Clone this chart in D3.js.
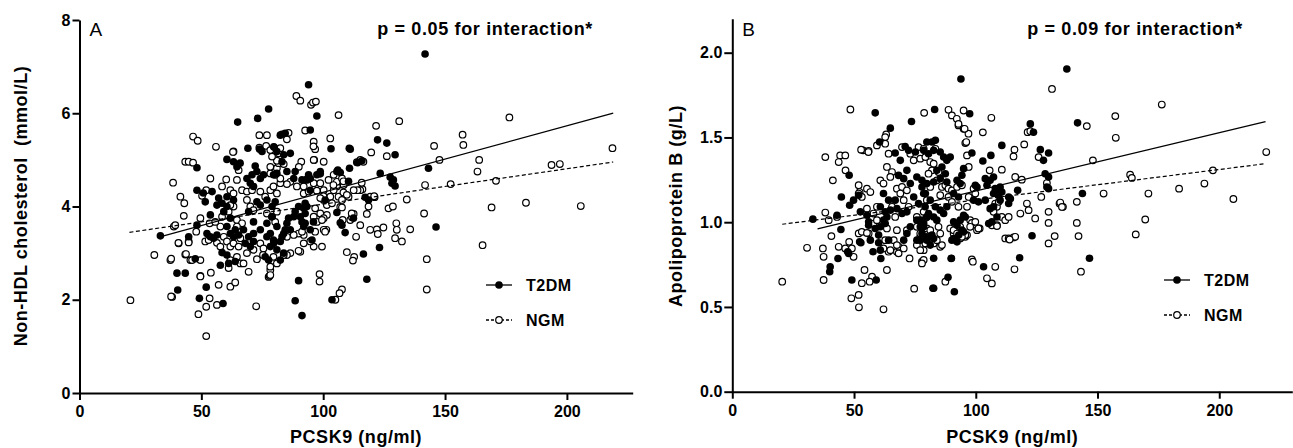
<!DOCTYPE html>
<html>
<head>
<meta charset="utf-8">
<script src="https://cdn.jsdelivr.net/npm/d3@7/dist/d3.min.js"></script>
<style>
  body { margin: 0; background: #fff; }
  svg text { font-family: "Liberation Sans", Arial, sans-serif; }
</style>
</head>
<body>
<div id="chart"></div>
<script>
var svgWidth = 1293;
var svgHeight = 448;

// ---- data: [PCSK9 ng/ml, value] ----
var xTicks = [0, 50, 100, 150, 200];
var yTicksA = [0, 2, 4, 6, 8];
var yTicksB = [0, 0.5, 1.0, 1.5, 2.0];
var seriesNames = ["T2DM", "NGM"];
var pLabels = ["p = 0.05 for interaction*", "p = 0.09 for interaction*"];

// regression lines: [intercept, slope, xStart, xEnd]
var fitA_T2DM = [2.88, 0.01425, 33, 219];
var fitA_NGM = [3.29, 0.0076, 20.5, 219];
var fitB_T2DM = [0.84, 0.00344, 35, 219];
var fitB_NGM = [0.951, 0.0018, 20.5, 219];

// panel A: non-HDL cholesterol (mmol/L)
var nonHdlT2DM = [
  [77.6,6.09],[73.1,5.89],[64.9,5.81],[48.2,4.83],[82.4,5.53],[69.1,5.25],[73.9,5.23],[74.9,5.18],[79.9,5.27],[60.5,5.01],
  [63.2,4.96],[65.9,4.93],[64.6,4.85],[72.1,4.87],[72.8,4.75],[70.8,4.68],[75.5,4.68],[74.2,4.6],[68.7,4.6],[70.1,4.5],
  [71.4,4.43],[79.6,4.68],[81,4.71],[57.1,4.18],[60.5,4.21],[63.2,4.14],[56.4,4.03],[58.5,4.07],[60.5,4.0],[51.6,4.1],
  [53.7,3.82],[48.2,3.6],[44.8,3.35],[33.2,3.37],[72.8,4.1],[74.2,4.03],[76.9,4.14],[79,4.0],[80.3,4.1],[69.4,3.89],
  [71.4,3.67],[76.9,3.64],[81,3.57],[59.2,3.89],[61.9,3.75],[52.3,3.42],[53.7,3.35],[56.4,3.39],[55,3.32],[60.5,3.57],
  [61.9,3.42],[63.9,3.5],[63.2,3.35],[65.3,3.39],[67.3,3.5],[69.4,3.35],[71.4,3.42],[68,3.21],[70.1,3.14],[71.4,3.25],
  [74.2,3.5],[76.9,3.35],[79.6,3.28],[78.3,3.14],[81,3.07],[58.5,3.01],[60.5,2.96],[57.8,2.74],[61.2,2.78],[63.9,2.82],
  [76.2,2.92],[77.6,2.85],[40,2.57],[43.4,2.57],[40.3,2.21],[52,2.27],[49.2,2.03],[58.9,1.92],[48.2,4.35],[54.4,4.32],
  [47.5,2.88],[50.8,4.29],[97.4,5.94],[94.7,5.64],[83.1,5.55],[84.4,5.57],[86.5,5.14],[83.8,5.11],[81,5.18],[79.7,5.28],
  [83.1,4.96],[103.2,5.24],[110.7,5.25],[111.1,5.23],[122.3,5.43],[126.1,5.36],[129.5,5.11],[110.8,4.82],[114.1,4.94],[115.9,4.98],
  [106,4.78],[107,4.73],[105.6,4.75],[123.4,4.71],[127.5,4.63],[128.8,4.57],[129.5,4.44],[128.2,4.5],[143.2,4.82],[98.8,4.75],
  [97.4,4.68],[94,4.68],[91.3,4.57],[88.5,4.75],[85.1,4.75],[87.9,4.6],[93.3,4.57],[94.7,4.6],[117.2,4.2],[105.6,3.87],
  [107,3.65],[109,3.44],[107.7,3.6],[123.1,3.12],[116.5,2.98],[117.9,2.44],[89.9,2.41],[88.5,1.98],[91.3,1.66],[103.6,2.0],
  [92.6,4.07],[93.3,4.0],[89.9,4.0],[88.5,3.89],[87.9,3.78],[85.8,3.75],[85.1,3.64],[84.4,3.5],[83.8,3.42],[83.1,3.35],
  [82.4,3.25],[83.8,3.0],[82.4,2.85],[92,3.96],[92.6,3.85],[90.6,3.78],[91.3,3.67],[92.6,3.64],[92,3.57],[95.4,3.28],
  [94.7,4.35],[86.5,3.5],[79.7,3.21],[79,3.78],[78.3,3.42],[96,3.67],[94.7,3.5],[94,6.61],[141.8,7.27],[146.3,3.56],
  [112.4,3.75],[118.6,4.14],[100.8,4.14],[98.8,4.7],[110.4,4.54]
];
var nonHdlNGM = [
  [46.6,5.5],[48.5,5.41],[56,5.28],[63.2,5.18],[73.8,5.53],[76.9,5.53],[43.4,4.96],[44.8,4.96],[46.6,4.94],[38.4,4.51],
  [53.7,4.6],[58.5,4.43],[60.2,4.58],[65.3,4.78],[64.6,4.57],[61.9,4.35],[63.2,4.28],[41.4,4.21],[43,4.07],[42.8,3.8],
  [52,4.35],[50.3,4.23],[49.6,3.75],[47.9,3.46],[38.7,3.57],[39.3,3.6],[51.6,3.25],[53,3.28],[40.7,3.21],[44.8,3.25],
  [30.7,2.96],[37.3,2.85],[43.4,2.97],[45.5,2.85],[46.2,2.85],[49.6,2.85],[49.6,2.51],[53.9,2.58],[57.1,2.32],[61.9,2.28],
  [63.9,2.37],[38,2.06],[53.4,2.03],[52,1.85],[48.8,1.69],[56.4,1.89],[52,1.22],[72.5,1.86],[20.9,1.99],[66.7,4.35],
  [68.7,4.32],[70.8,4.35],[70.1,4.0],[71.4,3.92],[68.7,4.14],[64.6,3.71],[66.7,3.64],[64.6,3.57],[74.2,4.32],[76.2,4.21],
  [78.3,4.35],[79.6,4.43],[81,4.28],[76.9,3.85],[79,3.78],[80.3,3.67],[81,3.89],[74.2,3.21],[75.5,3.1],[71.4,3.07],
  [68.7,3.0],[72.8,2.87],[64.6,2.92],[61.9,2.85],[66,2.78],[77.6,2.49],[69.4,2.6],[67.3,2.78],[57.8,3.57],[58.5,3.78],
  [61.2,3.89],[53.4,3.64],[55.7,3.67],[63.2,4.0],[61.9,4.03],[56.4,3.22],[57.8,3.14],[59.2,3.35],[60.5,3.25],[61.9,3.14],
  [63.2,3.21],[65.3,3.14],[66,3.32],[79.6,2.92],[81,2.78],[78.3,2.64],[40.6,3.22],[44.8,3.23],[43.7,2.98],[37.6,2.88],
  [37.6,2.07],[49.6,2.5],[61.2,2.68],[78,2.51],[75.3,2.96],[91,4.96],[90,4.85],[76.6,5.3],[73.8,5.26],[82.4,5.1],
  [63,5.17],[96.3,5.0],[89,6.37],[90.6,6.27],[95,6.18],[95.8,6.23],[97,6.25],[106.3,5.96],[121.7,5.73],[131.2,5.83],
  [85.8,5.58],[92.6,5.63],[85.1,5.44],[96.1,5.39],[96.7,5.23],[102.9,5.46],[119.7,5.16],[126.1,5.08],[115.2,5.0],[116.5,4.96],
  [141.8,4.46],[134.3,4.15],[141.4,3.85],[142.5,2.87],[142.5,2.22],[116.1,4.37],[115.2,4.35],[114.1,4.35],[121.1,4.2],[119.3,4.21],
  [118.6,4.0],[117.9,3.84],[126.8,3.96],[128.6,4.0],[130,3.64],[130.2,3.5],[129.5,3.32],[132.3,3.25],[135.7,3.51],[124.7,3.55],
  [122,3.51],[122.4,3.41],[119.3,3.5],[113.5,3.35],[115.2,3.6],[109.7,3.02],[112.7,2.92],[112.2,2.84],[98.5,2.55],[98.5,2.39],
  [107.7,2.22],[106.7,2.14],[111.1,3.71],[111.8,3.77],[112.5,3.84],[107,3.99],[107.7,3.98],[101.5,4.03],[101.5,3.82],[101.3,3.5],
  [99.5,3.14],[96.1,3.14],[94.7,3.25],[92,3.21],[90.6,3.03],[89.9,3.05],[86.5,3.0],[85.1,2.96],[83.8,2.96],[78.3,2.53],
  [78.3,2.71],[92,3.39],[89.9,3.42],[91.3,3.46],[87.9,3.39],[85.1,3.35],[92,4.28],[94,4.32],[97.4,4.34],[100.2,4.35],
  [96.1,4.5],[98.8,4.5],[93.3,4.58],[92,4.43],[89.2,4.43],[86.5,4.53],[85.1,4.48],[82.4,4.5],[82.4,4.6],[80.3,4.68],
  [78.3,4.71],[81,4.82],[78.3,4.85],[81.7,4.93],[83.8,4.91],[81,4.98],[79,5.07],[78.3,5.21],[81.7,5.14],[82.4,5.25],
  [96.7,3.96],[98.8,3.85],[96.1,3.78],[100.2,3.75],[97.4,3.67],[99.5,3.71],[100.2,3.5],[96.7,3.46],[100.8,3.46],[105.6,4.43],
  [104.3,4.35],[102.9,4.21],[106.3,4.21],[100.2,4.14],[103.6,4.07],[112.5,4.35],[110.4,4.21],[102.2,4.57],[100.2,4.96],[96.1,5.0],
  [105.6,4.53],[108.4,4.46],[104.3,4.68],[107.7,4.6],[157.2,5.54],[157.5,5.32],[145.5,5.3],[147.7,5.0],[164,5.0],[163.3,4.75],
  [170.9,4.55],[193.7,4.89],[197.1,4.91],[218.7,5.25],[183.2,4.08],[169.1,3.98],[205.7,4.01],[152.3,4.48],[176.4,5.91],[165.4,3.17],
  [108.3,4.54],[104.2,4.46],[115.8,4.51],[108.3,4.3],[109.7,4.25],[107.7,4.14],[120.9,4.22],[111.7,3.85],[100.1,4.22],[98.8,4.18],
  [108,3.71],[113.8,4.95],[96,5.29],[105,2.0]
];

// panel B: apolipoprotein B (g/L)
var apoBT2DM = [
  [58.7,1.645],[73.6,1.594],[64.9,1.555],[60.5,1.473],[66.9,1.408],[71,1.447],[72.4,1.424],[75.2,1.414],[69,1.365],[71.7,1.306],
  [79.9,1.473],[48,1.277],[44.8,1.149],[48.2,1.1],[33.1,1.018],[43,1.041],[52.6,1.061],[44.6,0.957],[52.3,0.884],[47.4,0.826],
  [43.4,0.786],[40.2,0.737],[40,0.708],[49.1,0.659],[59.1,0.659],[57.8,0.826],[61,0.786],[55.3,1.041],[56,0.982],[58.7,0.963],
  [60.8,1.091],[62.8,1.061],[64.9,1.071],[67.6,1.08],[69.7,1.051],[71.7,1.061],[73.1,0.973],[75.8,0.894],[77.9,0.933],[79.9,0.894],
  [62.1,1.169],[64.2,1.13],[66.9,1.13],[68.3,1.276],[70.4,1.257],[73.1,1.228],[75.8,1.267],[77.9,1.208],[79.3,1.169],[51.9,1.159],
  [49.8,1.13],[63.5,1.031],[62.1,1.012],[60.1,0.924],[56.7,0.894],[60.8,0.835],[64.2,0.894],[74.5,1.149],[76.5,1.11],[75.8,1.012],
  [77.2,0.973],[79.9,1.031],[47.8,0.816],[52.8,0.879],[60.1,0.879],[82.7,0.61],[82.7,0.787],[90,0.787],[88.6,0.675],[91.2,0.59],
  [56,1.002],[60.8,0.973],[62.8,0.992],[70.4,0.894],[71.7,0.933],[78.6,0.992],[82,0.924],[90.9,0.904],[93,0.924],[95,0.943],
  [93.9,1.845],[137.4,1.904],[141.8,1.586],[83.1,1.665],[97.5,1.64],[122.4,1.58],[123.7,1.531],[110.7,1.453],[106.2,1.394],[102.9,1.361],
  [98.4,1.408],[126.5,1.428],[129.9,1.408],[127.8,1.365],[128.5,1.286],[129.9,1.267],[129.2,1.208],[129.9,1.198],[117.2,1.188],[113.5,1.149],
  [114.2,1.139],[123.1,0.92],[118,0.79],[103.2,0.737],[89.9,0.786],[82.4,0.61],[82,1.473],[83.4,1.483],[78.6,1.424],[80.6,1.404],
  [82.7,1.424],[85.4,1.414],[86.8,1.384],[88.1,1.365],[89.5,1.384],[84,1.306],[86.1,1.326],[87.5,1.286],[85.4,1.257],[82.7,1.237],
  [88.1,1.237],[92.3,1.247],[93.6,1.228],[95,1.316],[94.3,1.277],[90.9,1.169],[92.9,1.149],[99.8,1.218],[100.5,1.208],[103.9,1.257],
  [105.9,1.247],[107.3,1.267],[104.6,1.218],[108,1.198],[109.4,1.188],[110.7,1.178],[110,1.208],[107.3,1.169],[109.4,1.159],[99.1,1.13],
  [101.1,1.12],[103.9,1.13],[105.9,1.08],[107.3,1.091],[110,1.13],[113.5,1.11],[95,1.041],[95.7,1.031],[93.6,1.012],[90.9,1.002],
  [92.3,0.982],[94.3,0.953],[105.3,0.992],[106.6,1.002],[108.7,1.031],[77.9,1.247],[79.9,1.228],[78.6,1.169],[81.3,1.13],[79.2,1.091],
  [80.6,1.051],[82.7,1.031],[84,1.012],[85.4,1.071],[86.8,1.051],[88.1,1.091],[83.4,1.091],[77.2,1.012],[78.6,0.973],[77.2,0.894],
  [79.9,0.914],[82.7,0.904],[81.3,0.865],[90.2,0.894],[92.3,0.884],[143.8,1.169],[146.7,0.787]
];
var apoBNGM = [
  [48.5,1.665],[78.8,1.645],[38.2,1.384],[44.3,1.394],[46.4,1.394],[43.7,1.355],[53.7,1.424],[56,1.42],[63.2,1.518],[62.8,1.463],
  [64.2,1.404],[46.5,1.306],[41.3,1.247],[51.9,1.218],[52.3,1.178],[55.3,1.08],[38.2,1.057],[43,1.031],[39.6,1.012],[40.7,0.918],
  [30.7,0.849],[37.2,0.845],[37.5,0.796],[43.7,0.855],[46.4,0.845],[48,0.884],[49.8,0.796],[20.5,0.649],[37.5,0.659],[54.3,0.718],
  [57.4,0.679],[53.2,0.64],[56.4,0.649],[63.5,0.718],[48.9,0.551],[51.9,0.571],[52,0.498],[62.1,0.486],[74.7,0.608],[77.9,0.767],
  [72.8,0.786],[51.9,0.934],[53.2,0.943],[56,0.934],[57.4,1.022],[58,0.992],[59.4,1.012],[66.3,0.894],[67.6,0.826],[68.3,0.855],
  [64.2,0.826],[62.8,0.894],[51.9,1.169],[53.2,1.149],[55.3,1.198],[56.7,1.178],[60.8,1.247],[62.1,1.228],[63.5,1.326],[65.6,1.296],
  [64.9,1.267],[67.6,1.198],[69.7,1.208],[69,1.169],[71.7,1.188],[73.1,1.404],[74.5,1.365],[76.5,1.443],[77.2,1.375],[70.4,1.13],
  [72.4,1.091],[65.6,1.091],[66.9,1.031],[59.4,1.091],[58,1.051],[79.9,1.13],[78.6,1.012],[75.8,1.031],[75.8,0.865],[78.6,0.835],
  [67.6,0.953],[63.5,0.963],[49.1,0.845],[55.3,0.937],[62.1,0.845],[64.9,0.835],[67.6,0.865],[68.3,0.816],[70.4,0.845],[71.7,0.953],
  [75.8,0.973],[77.2,0.914],[79.9,0.963],[82.7,0.875],[85.4,0.855],[89.5,0.963],[90.9,0.933],[93.6,0.973],[95.7,0.914],[97.7,1.012],
  [100.5,0.953],[87.5,0.649],[88.8,1.663],[90.2,1.63],[92.2,1.61],[92.9,1.571],[95,1.551],[97,1.522],[95.7,1.467],[96.4,1.394],
  [52.9,1.428],[55.9,1.414],[59.4,1.453],[62.8,1.502],[69.7,1.443],[131.3,1.786],[95,1.659],[106.4,1.616],[92.9,1.58],[95.4,1.551],
  [96.1,1.473],[102.9,1.53],[121.3,1.531],[122.4,1.537],[119.9,1.459],[115.9,1.428],[115.5,1.388],[110.7,1.31],[105.7,1.306],[97.1,1.326],
  [125.8,1.384],[116.2,1.267],[118.9,1.251],[129.2,1.231],[126.9,1.149],[121,1.11],[118.3,1.051],[121.7,1.071],[124.4,1.022],[129.9,1.061],
  [129.9,0.996],[134.4,1.11],[135.8,1.091],[141.5,1.12],[141.5,0.996],[142.2,0.918],[132.4,0.918],[129.9,0.875],[112.1,0.904],[113.5,0.904],
  [115.5,0.91],[108,1.11],[108.7,1.091],[109.4,1.12],[107.3,1.061],[110.7,1.031],[112.1,1.012],[113.5,1.031],[108.7,0.982],[106.6,0.982],
  [101.6,0.963],[98.4,0.996],[99.8,1.002],[97.7,0.973],[96.4,1.091],[99.1,1.198],[99.8,1.169],[98.4,0.78],[98.8,0.767],[108,0.737],
  [115.9,0.722],[104.6,0.669],[106.6,0.639],[86.1,0.865],[84,0.894],[90.9,0.953],[92.3,0.933],[96.4,0.924],[93.6,0.904],[78.6,1.433],
  [79.3,1.384],[83.4,1.433],[81.3,1.355],[82.7,1.345],[82,1.306],[84.7,1.296],[84,1.247],[80.6,1.286],[81.3,1.208],[86.1,1.208],
  [87.5,1.218],[88.8,1.198],[90.2,1.188],[85.4,1.159],[88.8,1.149],[90.2,1.12],[92.3,1.208],[94.3,1.218],[92.9,1.091],[97.1,1.149],
  [78.6,1.061],[79.9,1.031],[77.9,0.973],[81.3,0.953],[84.7,0.973],[85.4,0.933],[77.2,0.933],[79.3,0.875],[77.2,0.835],[78.6,0.777],
  [77.9,0.757],[176.4,1.694],[157.3,1.626],[157.5,1.498],[145.6,1.567],[148.1,1.365],[163.4,1.28],[164.1,1.261],[197.4,1.306],[219.3,1.414],
  [193.9,1.228],[183.5,1.198],[170.9,1.169],[152.5,1.169],[205.8,1.137],[169.6,1.016],[134.7,1.116],[135.4,1.09],[165.7,0.928],[143.2,0.708],
  [101.1,0.963],[95.7,0.924],[94.3,0.914],[108.7,0.977],[116.2,0.914],[113.9,0.898]
];

var svg = d3
  .select("#chart")
  .append("svg")
  .attr("width", svgWidth)
  .attr("height", svgHeight);

// one scatter panel
function drawPanel(p) {
  var x = d3.scaleLinear().domain([0, p.xMax]).range([p.left, p.right]);
  var y = d3.scaleLinear().domain([0, p.yMax]).range([p.bottom, p.top]);

  var g = svg.append("g");

  // open circles (NGM) first, filled (T2DM) on top
  g.append("g").selectAll("circle")
    .data(p.ngm)
    .enter()
    .append("circle")
    .attr("cx", d => x(d[0]))
    .attr("cy", d => y(d[1]))
    .attr("r", 3.3)
    .attr("fill", "white")
    .attr("stroke", "black")
    .attr("stroke-width", 1.2);

  g.append("g").selectAll("circle")
    .data(p.t2dm)
    .enter()
    .append("circle")
    .attr("cx", d => x(d[0]))
    .attr("cy", d => y(d[1]))
    .attr("r", 3.8)
    .attr("fill", "black");

  // regression lines
  var line = d3.line().x(d => x(d[0])).y(d => y(d[1]));
  function fitPts(f) {
    return [[f[2], f[0] + f[1] * f[2]], [f[3], f[0] + f[1] * f[3]]];
  }
  g.append("path")
    .attr("d", line(fitPts(p.fitT)))
    .attr("fill", "none")
    .attr("stroke", "black")
    .attr("stroke-width", 1.3);
  g.append("path")
    .attr("d", line(fitPts(p.fitN)))
    .attr("fill", "none")
    .attr("stroke", "black")
    .attr("stroke-width", 1.2)
    .attr("stroke-dasharray", "4,2.5");

  // axes
  var bottomAxis = d3.axisBottom(x).tickValues(xTicks).tickSizeInner(7).tickSizeOuter(0).tickPadding(6);
  var leftAxis = d3.axisLeft(y).tickValues(p.yTicks).tickSizeInner(p.tickLen).tickSizeOuter(0).tickPadding(2)
    .tickFormat(p.yFmt);

  var xg = g.append("g")
    .attr("transform", `translate(0, ${p.bottom})`)
    .call(bottomAxis);
  var yg = g.append("g")
    .attr("transform", `translate(${p.left}, 0)`)
    .call(leftAxis);

  [xg, yg].forEach(function(a) {
    a.select(".domain").attr("stroke-width", 2);
    a.selectAll(".tick line").attr("stroke-width", 2);
    a.selectAll(".tick text")
      .attr("font-family", "Liberation Sans, Arial, sans-serif")
      .attr("font-size", 16)
      .attr("font-weight", "bold")
      .attr("fill", "black");
  });

  // axis titles
  g.append("text")
    .attr("x", (p.left + p.right) / 2)
    .attr("y", 443)
    .attr("text-anchor", "middle")
    .attr("font-size", 18)
    .attr("font-weight", "bold")
    .attr("letter-spacing", 0.55)
    .text("PCSK9 (ng/ml)");

  g.append("text")
    .attr("transform", `translate(${p.yTitleX}, 206) rotate(-90)`)
    .attr("text-anchor", "middle")
    .attr("font-size", 18)
    .attr("font-weight", "bold")
    .attr("letter-spacing", 0.55)
    .attr("xml:space", "preserve")
    .text(p.yTitle);

  // panel letter and p value
  g.append("text")
    .attr("x", p.left + 10)
    .attr("y", 36)
    .attr("font-size", 19)
    .text(p.letter);

  g.append("text")
    .attr("x", p.pRight)
    .attr("y", 35)
    .attr("text-anchor", "end")
    .attr("font-size", 18)
    .attr("font-weight", "bold")
    .attr("letter-spacing", 0.65)
    .text(p.pText);

  // legend
  var leg = g.append("g").attr("transform", `translate(${p.legX}, ${p.legY})`);
  seriesNames.forEach(function(name, i) {
    var row = leg.append("g").attr("transform", `translate(0, ${i * 35})`);
    row.append("line")
      .attr("x1", 0).attr("x2", 26)
      .attr("stroke", "black")
      .attr("stroke-width", 1.3)
      .attr("stroke-dasharray", i === 0 ? null : "3,2");
    row.append("circle")
      .attr("cx", 13)
      .attr("r", i === 0 ? 3.8 : 3.3)
      .attr("fill", i === 0 ? "black" : "white")
      .attr("stroke", "black")
      .attr("stroke-width", i === 0 ? 0 : 1.2);
    row.append("text")
      .attr("x", 40)
      .attr("y", 6)
      .attr("font-size", 16)
      .attr("font-weight", "bold")
      .attr("letter-spacing", 0.5)
      .text(name);
  });
}

drawPanel({
  left: 79.5, right: 632.7, xMax: 227,
  bottom: 393, top: 20, yMax: 8,
  yTicks: yTicksA, yFmt: d3.format("d"), tickLen: 7,
  t2dm: nonHdlT2DM, ngm: nonHdlNGM,
  fitT: fitA_T2DM, fitN: fitA_NGM,
  yTitle: "Non-HDL cholesterol  (mmol/L)", yTitleX: 27,
  letter: "A", pText: pLabels[0], pRight: 593,
  legX: 486, legY: 285
});

drawPanel({
  left: 732.3, right: 1292.3, xMax: 230,
  bottom: 391.7, top: 18.8, yMax: 2.2,
  yTicks: yTicksB, yFmt: d3.format(".1f"), tickLen: 8,
  t2dm: apoBT2DM, ngm: apoBNGM,
  fitT: fitB_T2DM, fitN: fitB_NGM,
  yTitle: "Apolipoprotein B (g/L)", yTitleX: 682,
  letter: "B", pText: pLabels[1], pRight: 1243,
  legX: 1164, legY: 280
});
</script>
</body>
</html>
